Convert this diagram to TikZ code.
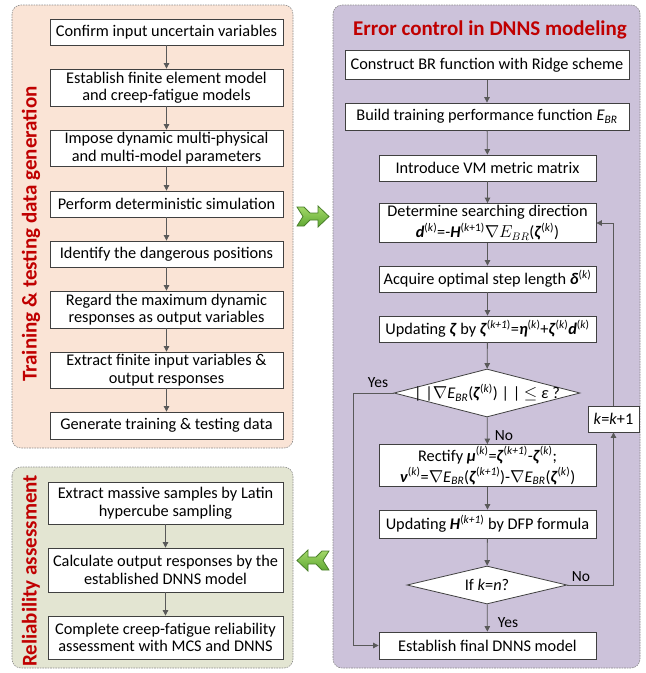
\documentclass[tikz,border=0pt]{standalone}
\usepackage{fontspec}
\setmainfont{Carlito}
\usetikzlibrary{shapes.geometric,arrows.meta}
\definecolor{boxline}{HTML}{404040}
\definecolor{arrcol}{HTML}{595959}
\definecolor{darkred}{HTML}{C00000}
\definecolor{peach}{HTML}{FAE4D6}
\definecolor{sage}{HTML}{E3E5D2}
\definecolor{lav}{HTML}{CCC2DA}
\definecolor{pborder}{HTML}{8C8C8C}
\definecolor{gtop}{HTML}{A5D96A}
\definecolor{gbot}{HTML}{5EA832}
\definecolor{gline}{HTML}{4A7F2A}
\newcommand\sbr{\textsubscript{\textit{BR}}}
\newcommand\bz{\textbf{\textit{ζ}}}
\newcommand\sk{\textsuperscript{(\textit{k})}}
\newcommand\skk{\textsuperscript{(\textit{k+1})}}
\tikzset{
  panel/.style={draw=pborder, line width=0.6pt, dash pattern=on 1.6pt off 1pt, rounded corners=9pt},
  box/.style={draw=boxline, fill=white, line width=0.8pt, inner sep=0pt, align=center, font=\fontsize{16.3}{17.5}\selectfont},
  tallbox/.style={box, font=\fontsize{16.3}{21}\selectfont},
  dia/.style={diamond, draw=boxline, fill=white, line width=0.8pt, inner sep=0pt},
  diatext/.style={inner sep=0pt, align=center, font=\fontsize{16.3}{17.5}\selectfont},
  arr/.style={draw=arrcol, line width=0.8pt, -{Triangle[length=5.5pt,width=5.5pt]}},
  lab/.style={font=\fontsize{15.5}{17}\selectfont, text=black},
  vlab/.style={rotate=90, text=darkred, font=\fontsize{21}{23}\selectfont\bfseries},
  garrow/.style={draw=gline, line width=0.8pt, top color=gtop, bottom color=gbot, line join=miter}
}
\begin{document}
\begin{tikzpicture}[x=1pt,y=-1pt]
\useasboundingbox (0,0) rectangle (646,673);
% panels
\fill[peach] (12,5) [rounded corners=9pt] rectangle (293,448);
\draw[panel] (12,5) rectangle (293,448);
\fill[sage] (12,467) [rounded corners=9pt] rectangle (293,668);
\draw[panel] (12,467) rectangle (293,668);
\fill[lav] (333,5) [rounded corners=9pt] rectangle (640,668);
\draw[panel] (333,5) rectangle (640,668);
% panel labels
\node[vlab] (vl1) at (31,234) {Training \& testing data generation};
\node[vlab] (vl2) at (31,571) {Reliability assessment};
\node[text=darkred, font=\fontsize{21}{23}\selectfont\bfseries] (title) at (490,30) {Error control in DNNS modeling};
% left top boxes
\begin{scope}[every node/.append style={minimum width=233}]
\node[box, minimum height=26] (l1) at (166.5,32) {Confirm input uncertain variables};
\node[box, minimum height=37] (l2) at (166.5,87.5) {Establish finite element model\\and creep-fatigue models};
\node[box, minimum height=36] (l3) at (166.5,148) {Impose dynamic multi-physical\\and multi-model parameters};
\node[box, minimum height=26] (l4) at (166.5,204) {Perform deterministic simulation};
\node[box, minimum height=26] (l5) at (166.5,254) {Identify the dangerous positions};
\node[box, minimum height=37] (l6) at (166.5,309.5) {Regard the maximum dynamic\\responses as output variables};
\node[box, minimum height=36] (l7) at (166.5,370) {Extract finite input variables \&\\output responses};
\node[box, minimum height=27] (l8) at (166.5,425.5) {Generate training \& testing data};
\end{scope}
\foreach \a/\b in {l1/l2,l2/l3,l3/l4,l4/l5,l5/l6,l6/l7,l7/l8} \draw[arr] (\a) -- (\b);
% left bottom boxes
\begin{scope}[every node/.append style={minimum width=235}]
\node[box, minimum height=42] (r1) at (165.5,503) {Extract massive samples by Latin\\hypercube sampling};
\node[box, minimum height=44] (r2) at (165.5,570) {Calculate output responses by the\\established DNNS model};
\node[box, minimum height=43] (r3) at (165.5,637.5) {Complete creep-fatigue reliability\\assessment with MCS and DNNS};
\end{scope}
\draw[arr] (r1) -- (r2);
\draw[arr] (r2) -- (r3);
% right boxes
\node[box, minimum width=284, minimum height=29] (b1) at (487,65) {Construct BR function with Ridge scheme};
\node[box, minimum width=284, minimum height=27] (b2) at (487,116.5) {Build training performance function \textit{E}\sbr};
\begin{scope}[every node/.append style={minimum width=217}]
\node[box, minimum height=26] (b3) at (487.5,168) {Introduce VM metric matrix};
\node[tallbox, minimum height=39] (b4) at (487.5,223) {Determine searching direction\\\textbf{\textit{d}}\sk=-\textbf{\textit{H}}\textsuperscript{(\textit{k}+1)}$\nabla E_{BR}$(\bz\sk)};
\node[box, minimum height=26] (b5) at (487.5,279) {Acquire optimal step length \textbf{\textit{δ}}\sk};
\node[box, minimum height=26] (b6) at (487.5,329) {Updating \bz{} by \bz\skk=\textbf{\textit{η}}\sk+\bz\sk\textbf{\textit{d}}\sk};
\node[tallbox, minimum height=42] (b7) at (487.5,465.5) {Rectify \textbf{\textit{μ}}\sk=\bz\skk-\bz\sk;\\\textbf{\textit{ν}}\sk=$\nabla$\textit{E}\sbr(\bz\skk)-$\nabla$\textit{E}\sbr(\bz\sk)};
\node[box, minimum height=28] (b8) at (487.5,524) {Updating \textbf{\textit{H}}\skk{} by DFP formula};
\node[box, minimum height=27] (b9) at (487.5,645.5) {Establish final DNNS model};
\end{scope}
\node[dia, minimum width=186, minimum height=48] (d1) at (487,393) {};
\node[diatext] (d1t) at (d1.center) {| |$\nabla$\textit{E}\sbr(\bz\sk) | | $\leq$ \textit{ε} ?};
\node[dia, minimum width=160, minimum height=38] (d2) at (487,585) {};
\node[diatext] (d2t) at (d2.center) {If \textit{k}=\textit{n}?};
\node[box, minimum width=51, minimum height=26] (kk) at (613.5,419) {\textit{k}=\textit{k}+1};
\foreach \a/\b in {b1/b2,b2/b3,b3/b4,b4/b5,b5/b6,b6/d1,d1/b7,b7/b8,b8/d2,d2/b9} \draw[arr] (\a) -- (\b);
\draw[arr] (d2.east) -| (kk.south);
\draw[arr] (kk.north) |- (b4.east);
\coordinate (yc) at (353,393);
\draw[arr] (d1.west) -- (yc) |- (b9.west);
\node[lab] (yes1) at (378,383) {Yes};
\node[lab] (no1) at (504,436) {No};
\node[lab] (no2) at (581,577) {No};
\node[lab] (yes2) at (508,623) {Yes};
% green block arrows
\draw[garrow] (297,207) -- (304,207) -- (310,213) -- (318,213) -- (318,206) -- (329,216.5) -- (318,227) -- (318,220) -- (310,220) -- (304,226) -- (297,226) -- (303,216.5) -- cycle;
\draw[garrow] (329,551) -- (322,551) -- (316,557) -- (308,557) -- (308,550) -- (297,560.5) -- (308,571) -- (308,564) -- (316,564) -- (322,570) -- (329,570) -- (323,560.5) -- cycle;
\end{tikzpicture}
\end{document}
